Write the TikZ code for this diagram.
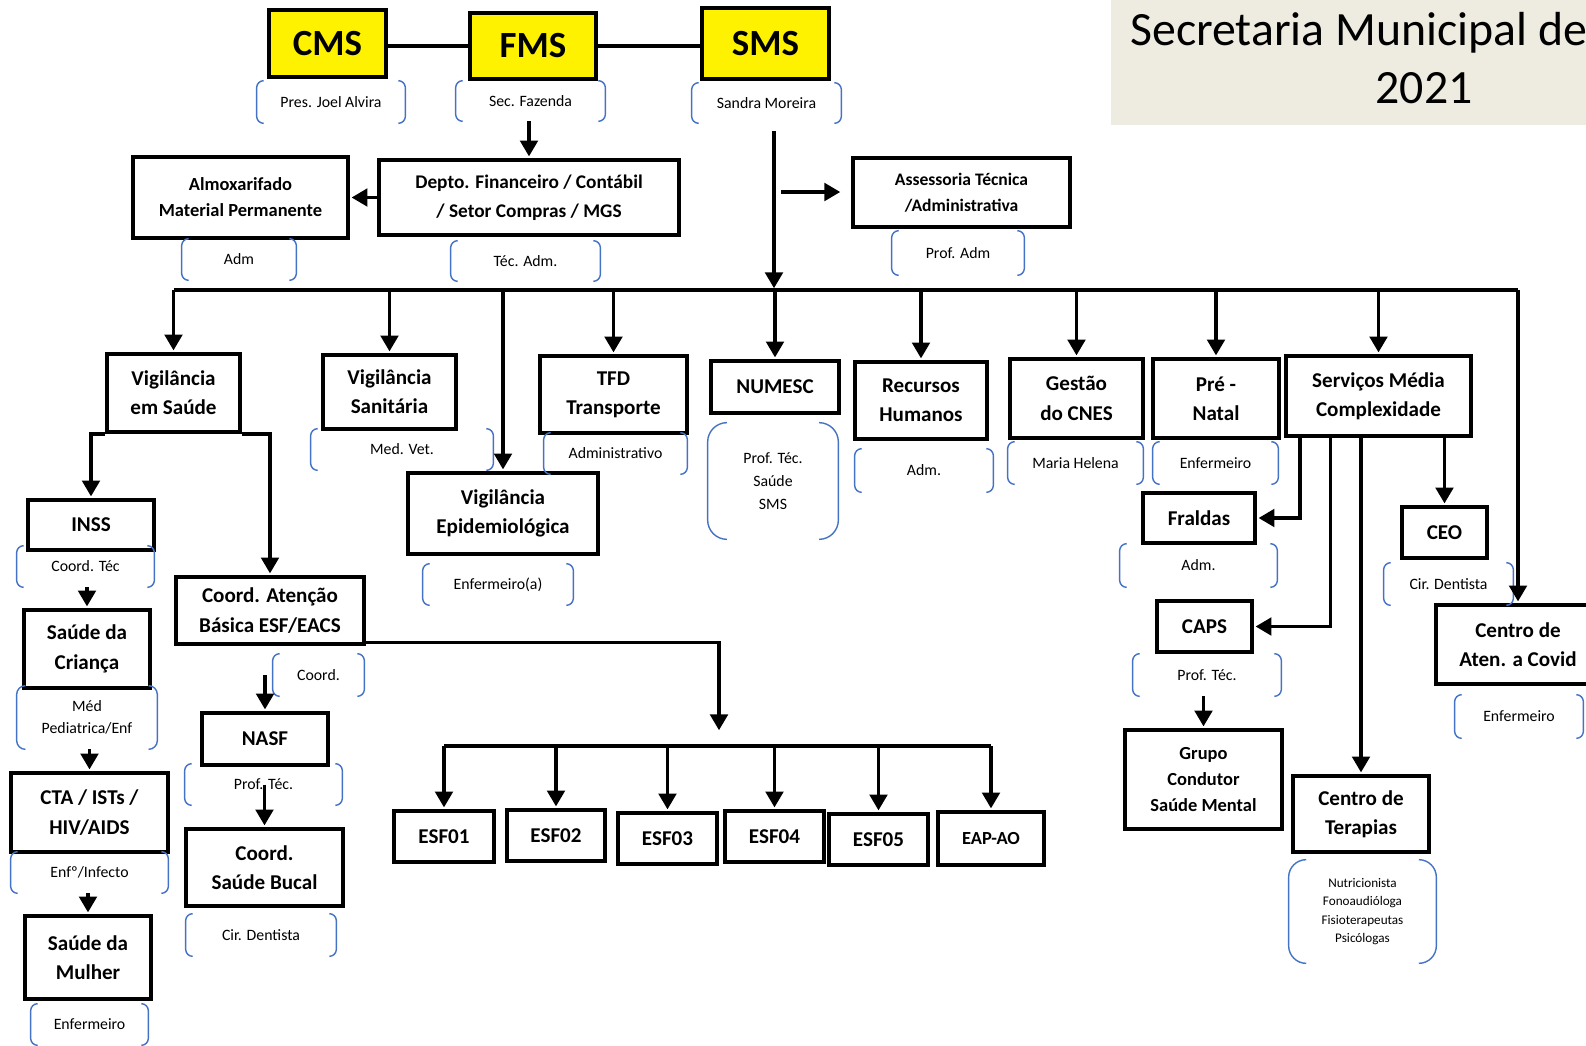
\documentclass[tikz,border=0pt]{standalone}
\usepackage{fontspec}
\setmainfont{Carlito}
\usetikzlibrary{arrows.meta}
\definecolor{brkblue}{HTML}{4472C4}
\definecolor{titlebg}{HTML}{EEECE1}
\newcommand\pxu{0.02cm}

\begin{document}
\begin{tikzpicture}[x=0.02cm, y=-0.02cm]

      \tikzset{unit/.style 2 args={draw, line width=2.1pt, minimum width=#1*\pxu, minimum height=#2*\pxu, inner sep=0pt, align=center, font=\bfseries\fontsize{12}{16.7}\selectfont},
               head/.style 2 args={unit={#1}{#2}, fill=yellow, font=\bfseries\fontsize{21}{25}\selectfont},
               brk/.style={draw=brkblue, line width=0.8pt},
               role/.style n args={3}{minimum width=#1*\pxu, minimum height=#2*\pxu, inner sep=0pt, align=center, font=\fontsize{9}{12.6}\selectfont,
                 append after command={\pgfextra{
                   \draw[brk, rounded corners=#3] ([xshift=#3]\tikzlastnode.north west) -- (\tikzlastnode.north west) -- (\tikzlastnode.south west) -- ([xshift=#3]\tikzlastnode.south west);
                   \draw[brk, rounded corners=#3] ([xshift=-#3]\tikzlastnode.north east) -- (\tikzlastnode.north east) -- (\tikzlastnode.south east) -- ([xshift=-#3]\tikzlastnode.south east);}}},
               arr/.style={line width=1.9pt, -{Triangle[width=10pt,length=9pt]}, shorten >=1pt},
               link/.style={line width=1.9pt},
               busline/.style={line width=2.7pt}}
      \useasboundingbox (0,0) rectangle (1586,1045);

%% Title
      	\fill[titlebg] (1111,0) rectangle (1586,125);
      	\node[anchor=base west, inner sep=0pt, font=\fontsize{27.2}{32}\selectfont] (title) at (1130,45) {Secretaria Municipal de};
      	\node[anchor=base, inner sep=0pt, font=\fontsize{27.2}{32}\selectfont] (year) at (1424,103) {2021};

%% Top
      	\node[head={117}{67}] (cms) at (327.5,43.5) {CMS};
      	\node[head={126}{66}] (fms) at (533,46) {FMS};
      	\node[head={127}{71}] (sms) at (765.5,43.5) {SMS};
      	\node[role={148}{42}{4pt}] (cmsr) at (331,102) {Pres. Joel Alvira};
      	\node[role={149}{40}{4pt}] (fmsr) at (530.5,101) {Sec. Fazenda};
      	\node[role={149}{40}{4pt}] (smsr) at (766.5,103) {Sandra Moreira};

      	\node[unit={300}{75}, font=\bfseries\fontsize{11}{16.7}\selectfont] (depto) at (529,197.5) {Depto. Financeiro / Contábil\\/ Setor Compras / MGS};
      	\node[unit={215}{81}, font=\bfseries\fontsize{10.5}{14.9}\selectfont] (almox) at (240.5,197.5) {Almoxarifado\\Material Permanente};
      	\node[role={114}{41}{4pt}] (almoxr) at (239,259.5) {Adm};
      	\node[role={149}{40}{4pt}] (deptor) at (525.5,261) {Téc. Adm.};
      	\node[unit={217}{69}, font=\bfseries\fontsize{10}{14.9}\selectfont] (assess) at (961.5,192.5) {Assessoria Técnica\\/Administrativa};
      	\node[role={132}{44}{4pt}] (assessr) at (958,253) {Prof. Adm};
      	\coordinate (smsdrop) at (774,131);
      	\coordinate (assin) at (781,192);
      	\coordinate (assout) at (842,192);
      	\coordinate (bus) at (0,290);

%% Second row
      	\node[unit={133}{78}] (vs) at (173.5,393) {Vigilância\\em Saúde};
      	\node[unit={133}{74}] (vsan) at (389.5,392) {Vigilância\\Sanitária};
      	\node[role={182}{41}{4pt}] (vsanr) at (402,449.5) {Med. Vet.};
      	\node[unit={190}{81}] (vepi) at (503,513.5) {Vigilância\\Epidemiológica};
      	\node[role={150}{41}{4pt}] (vepir) at (498,584.5) {Enfermeiro(a)};
      	\node[unit={147}{77}] (tfd) at (613.5,394.5) {TFD\\Transporte};
      	\node[role={143}{41}{4pt}] (tfdr) at (615.5,453.5) {Administrativo};
      	\node[unit={128}{52}] (num) at (775,387) {NUMESC};
      	\node[role={130}{116}{11pt}, font=\fontsize{9}{12.9}\selectfont] (numr) at (773,481) {Prof. Téc.\\Saúde\\SMS};
      	\node[unit={132}{77}] (rh) at (921,400.5) {Recursos\\Humanos};
      	\node[role={138}{43}{4pt}] (rhr) at (924,470.5) {Adm.};
      	\node[unit={133}{79}] (cnes) at (1076.5,398.5) {Gestão\\do CNES};
      	\node[role={135}{42}{4pt}] (cnesr) at (1075.5,463) {Maria Helena};
      	\node[unit={126}{79}] (pn) at (1216,398.5) {Pré -\\Natal};
      	\node[role={125}{42}{4pt}] (pnr) at (1215.5,463) {Enfermeiro};
      	\node[unit={185}{80}] (smc) at (1378.5,396) {Serviços Média\\Complexidade};
      	\node[unit={164}{79}] (cov) at (1518,644.5) {Centro de\\Aten. a Covid};
      	\node[role={128}{43}{4pt}] (covr) at (1519,716.5) {Enfermeiro};

%% Vigilancia em Saude
      	\node[unit={126}{50}] (inss) at (91,525) {INSS};
      	\node[role={137}{41}{4pt}] (inssr) at (85.5,566.5) {Coord. Téc};
      	\node[unit={126}{78}] (crian) at (87,649) {Saúde da\\Criança};
      	\node[role={140}{63}{5pt}] (crianr) at (87,717.5) {Méd\\Pediatrica/Enf};
      	\node[unit={157}{79}] (cta) at (89.5,812.5) {CTA / ISTs /\\HIV/AIDS};
      	\node[role={157}{41}{4pt}] (ctar) at (89.5,872.5) {Enfº/Infecto};
      	\node[unit={126}{83}] (mulh) at (88,957.5) {Saúde da\\Mulher};
      	\node[role={117}{41}{4pt}] (mulhr) at (89.5,1024.5) {Enfermeiro};

      	\node[unit={188}{67}] (cab) at (270,610.5) {Coord. Atenção\\Básica ESF/EACS};
      	\node[role={91}{42}{4pt}] (cabr) at (318.5,675) {Coord.};
      	\node[unit={126}{52}] (nasf) at (265,739) {NASF};
      	\node[role={157}{41}{4pt}] (nasfr) at (263.5,784.5) {Prof. Téc.};
      	\node[unit={157}{77}] (bucal) at (264.5,867.5) {Coord.\\Saúde Bucal};
      	\node[role={150}{42}{4pt}] (bucalr) at (261,935) {Cir. Dentista};

%% ESF
      	\coordinate (esfin) at (719,732);
      	\coordinate (esfbus) at (0,746);
      	\node[unit={100}{51}] (esf1) at (444,836.5) {ESF01};
      	\node[unit={98}{51}] (esf2) at (556,835.5) {ESF02};
      	\node[unit={99}{51}] (esf3) at (667.5,838.5) {ESF03};
      	\node[unit={99}{51}] (esf4) at (774.5,836.5) {ESF04};
      	\node[unit={99}{51}] (esf5) at (878.5,839.5) {ESF05};
      	\node[unit={106}{53}, font=\bfseries\fontsize{10.5}{14}\selectfont] (eap) at (991,838.5) {EAP-AO};

%% Servicos Media Complexidade
      	\node[unit={112}{50}] (frald) at (1199,518) {Fraldas};
      	\node[role={157}{43}{4pt}] (fraldr) at (1198.5,565.5) {Adm.};
      	\node[unit={95}{51}] (caps) at (1204.5,626.5) {CAPS};
      	\node[role={148}{42}{4pt}] (capsr) at (1207,675) {Prof. Téc.};
      	\node[unit={157}{99}, font=\bfseries\fontsize{10.5}{14.9}\selectfont] (grupo) at (1203.5,779.5) {Grupo\\Condutor\\Saúde Mental};
      	\node[unit={85}{51}] (ceo) at (1444.5,532.5) {CEO};
      	\node[role={129}{42}{4pt}] (ceor) at (1448.5,584) {Cir. Dentista};
      	\node[unit={136}{76}] (terap) at (1361,814) {Centro de\\Terapias};
      	\node[role={147}{103}{10pt}, font=\fontsize{7.5}{10.5}\selectfont] (terapr) at (1362.5,911.5) {Nutricionista\\Fonoaudióloga\\Fisioterapeutas\\Psicólogas};

%Edges
		\draw[link] (fms.west -| cms.east) -- (fms.west);
		\draw[link] (fms.east) -- (fms.east -| sms.west);
		\draw[arr] (depto.north |- fmsr.south) -- (depto.north);
		\draw[arr] (depto.west) -- (almox.east);
		\draw[arr] (smsdrop) -- (smsdrop |- bus);
		\draw[arr] (assin) -- (assout);

		\draw[busline] (vs.north |- bus) -- (cov.north |- bus);
		\draw[arr] (vs.north |- bus) -- (vs.north);
		\draw[arr] (vsan.north |- bus) -- (vsan.north);
		\draw[arr] (vepi.north |- bus) -- (vepi.north);
		\draw[arr] (tfd.north |- bus) -- (tfd.north);
		\draw[arr] (num.north |- bus) -- (num.north);
		\draw[arr] (rh.north |- bus) -- (rh.north);
		\draw[arr] (cnes.north |- bus) -- (cnes.north);
		\draw[arr] (pn.north |- bus) -- (pn.north);
		\draw[arr] (smc.north |- bus) -- (smc.north);
		\draw[arr] (cov.north |- bus) -- (cov.north);

		\draw[arr] (vs.south west) -| (inss.north);
		\draw[arr] (crian.north |- inssr.south) -- (crian.north);
		\draw[arr] (cta.north |- crianr.south) -- (cta.north);
		\draw[arr] (mulh.north |- ctar.south) -- (mulh.north);
		\draw[arr] (vs.south east) -| (cab.north);
		\draw[arr] (nasf.north |- cabr.east) -- (nasf.north);
		\draw[arr] (bucal.north |- nasfr.east) -- (bucal.north);

		\draw[arr] ([yshift=2pt]cab.south east) -| (esfin);
		\draw[link] (esf1.north |- esfbus) -- (eap.north |- esfbus);
		\draw[arr] (esf1.north |- esfbus) -- (esf1.north);
		\draw[arr] (esf2.north |- esfbus) -- (esf2.north);
		\draw[arr] (esf3.north |- esfbus) -- (esf3.north);
		\draw[arr] (esf4.north |- esfbus) -- (esf4.north);
		\draw[arr] (esf5.north |- esfbus) -- (esf5.north);
		\draw[arr] (eap.north |- esfbus) -- (eap.north);

		\draw[arr] ([xshift=9pt]smc.south west) |- (frald.east);
		\draw[arr] ([xshift=26.5pt]smc.south west) |- (caps.east);
		\draw[arr] (terap.north |- smc.south) -- (terap.north);
		\draw[arr] (ceo.north |- smc.south) -- (ceo.north);
		\draw[arr] (grupo.north |- capsr.south) -- (grupo.north);

	\end{tikzpicture}
\end{document}
